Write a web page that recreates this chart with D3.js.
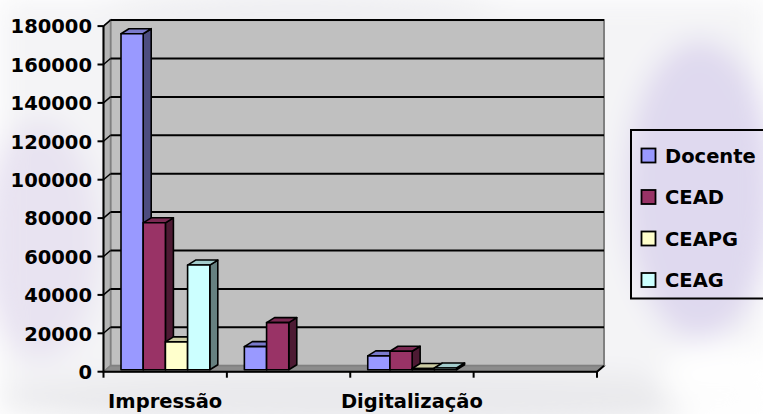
<!DOCTYPE html>
<html><head><meta charset="utf-8">
<script src="https://cdn.jsdelivr.net/npm/d3@7"></script>
<style>html,body{margin:0;padding:0;background:#fff;overflow:hidden}</style>
</head><body>
<svg id="chart" width="763" height="414"></svg>
<script>
// ---- data ----
const categories = ["Impressão", "", "Digitalização", ""];
const seriesNames = ["Docente", "CEAD", "CEAPG", "CEAG"];
const docente = [175000, 12000, 7200, 0];
const cead    = [76500, 24500, 9600, 0];
const ceapg   = [14500, 0, 600, 0];
const ceag    = [54500, 0, 900, 0];
const seriesValues = [docente, cead, ceapg, ceag];
const yTicks = [0, 20000, 40000, 60000, 80000, 100000, 120000, 140000, 160000, 180000];
const colors = ["#9999FF", "#993366", "#FFFFCC", "#CCFFFF"];

// ---- layout ----
const svg = d3.select("#chart");
const W = 763, H = 414;
const DX = 7, DY = -6;          // wall depth
const BDX = 8, BDY = -5;        // bar depth
const x = d3.scaleBand().domain(d3.range(categories.length)).range([103.5, 597]);
const y = d3.scaleLinear().domain([0, 180000]).range([371.7, 26.1]);
const inner = d3.scaleBand().domain(d3.range(seriesNames.length)).range([17.5, 17.5 + 4 * 22.2]);
const barShiftY = -2;
const font = "'DejaVu Sans', sans-serif";

// ---- faint background watermark ----
const defs = svg.append("defs");
defs.append("filter").attr("id", "blur").append("feGaussianBlur").attr("stdDeviation", 14);
const bg = svg.append("g").attr("filter", "url(#blur)");
bg.append("rect").attr("x", 0).attr("y", 0).attr("width", W).attr("height", H).attr("fill", "#f4f4f6");
bg.append("ellipse").attr("cx", 700).attr("cy", 190).attr("rx", 75).attr("ry", 150).attr("fill", "#d9d2ee").attr("opacity", 0.8);
bg.append("ellipse").attr("cx", 40).attr("cy", 240).attr("rx", 60).attr("ry", 120).attr("fill", "#e2dcef").attr("opacity", 0.7);
bg.append("ellipse").attr("cx", 380).attr("cy", 400).attr("rx", 380).attr("ry", 30).attr("fill", "#e6e6ea").attr("opacity", 0.8);
bg.append("ellipse").attr("cx", 300).attr("cy", 8).attr("rx", 200).attr("ry", 20).attr("fill", "#ececf0").attr("opacity", 0.8);
bg.append("ellipse").attr("cx", 720).attr("cy", 380).attr("rx", 60).attr("ry", 40).attr("fill", "#ffffff").attr("opacity", 0.9);

// ---- walls ----
const x0 = x.range()[0], x1 = x.range()[1];
const yTop = y(180000), yBot = y(0);
// back wall
svg.append("rect")
  .attr("x", x0 + DX).attr("y", yTop + DY)
  .attr("width", x1 - x0).attr("height", yBot - yTop)
  .attr("fill", "#c0c0c0").attr("stroke", "#808080").attr("stroke-width", 2);
// side wall
svg.append("polygon")
  .attr("points", [[x0, yTop], [x0 + DX, yTop + DY], [x0 + DX, yBot + DY], [x0, yBot]].join(" "))
  .attr("fill", "#b4b4b4").attr("stroke", "#808080").attr("stroke-width", 1.5);
// floor
svg.append("polygon")
  .attr("points", [[x0, yBot], [x0 + DX, yBot + DY], [x1 + DX, yBot + DY], [x1, yBot]].join(" "))
  .attr("fill", "#8c8c8c").attr("stroke", "#808080").attr("stroke-width", 1.5);

// gridlines
const grid = svg.append("g");
yTicks.filter(t => t > 0).forEach(t => {
  grid.append("line").attr("x1", x0 + DX).attr("x2", x1 + DX)
    .attr("y1", y(t) + DY).attr("y2", y(t) + DY)
    .attr("stroke", "#000").attr("stroke-width", 2);
  grid.append("line").attr("x1", x0).attr("x2", x0 + DX)
    .attr("y1", y(t)).attr("y2", y(t) + DY)
    .attr("stroke", "#000").attr("stroke-width", 1.5);
});

// ---- bars ----
function shade(c, k) {
  const r = d3.rgb(c);
  return d3.rgb(r.r * k, r.g * k, r.b * k).toString();
}
const bars = svg.append("g").attr("stroke", "#000").attr("stroke-width", 1.6).attr("stroke-linejoin", "round");
categories.forEach((cat, ci) => {
  seriesValues.forEach((vals, si) => {
    const v = vals[ci];
    if (!v) return;
    const bx0 = x(ci) + inner(si), bx1 = bx0 + inner.bandwidth();
    const yt = y(v) + barShiftY, yb = y(0) + barShiftY;
    const c = colors[si];
    // side
    bars.append("polygon")
      .attr("points", [[bx1, yt], [bx1 + BDX, yt + BDY], [bx1 + BDX, yb + BDY], [bx1, yb]].join(" "))
      .attr("fill", shade(c, 0.5));
    // top
    bars.append("polygon")
      .attr("points", [[bx0, yt], [bx0 + BDX, yt + BDY], [bx1 + BDX, yt + BDY], [bx1, yt]].join(" "))
      .attr("fill", shade(c, 0.8));
    // front
    bars.append("rect")
      .attr("x", bx0).attr("y", yt).attr("width", bx1 - bx0).attr("height", yb - yt)
      .attr("fill", c);
  });
});

// ---- axes ----
const ax = svg.append("g").attr("stroke", "#000").attr("stroke-width", 2);
ax.append("line").attr("x1", x0).attr("x2", x0).attr("y1", yTop).attr("y2", yBot);
ax.append("line").attr("x1", x0).attr("x2", x1).attr("y1", yBot).attr("y2", yBot);
ax.append("line").attr("x1", x1).attr("x2", x1 + DX).attr("y1", yBot).attr("y2", yBot + DY);
yTicks.forEach(t => {
  ax.append("line").attr("x1", x0 - 6).attr("x2", x0).attr("y1", y(t)).attr("y2", y(t));
});
const bounds = categories.map((c, i) => x(i)).concat([x1]);
bounds.forEach(bx => {
  ax.append("line").attr("x1", bx).attr("x2", bx).attr("y1", yBot).attr("y2", yBot + 6);
});

const tl = svg.append("g").attr("font-family", font).attr("font-weight", "bold").attr("font-size", 19.5).attr("fill", "#000");
yTicks.forEach(t => {
  tl.append("text").attr("x", 92).attr("y", y(t) + 7.3).attr("text-anchor", "end").text(t);
});
categories.forEach((c, i) => {
  if (!c) return;
  tl.append("text").attr("x", x(i) + x.bandwidth() / 2).attr("y", 408).attr("text-anchor", "middle").text(c);
});

// ---- legend ----
const lg = svg.append("g");
lg.append("rect").attr("x", 631).attr("y", 130).attr("width", 160).attr("height", 168.5)
  .attr("fill", "none").attr("stroke", "#000").attr("stroke-width", 2);
const legendY = d3.scaleLinear().domain([0, 3]).range([155.5, 280]);
seriesNames.forEach((s, i) => {
  const cy = legendY(i);
  lg.append("rect").attr("x", 641.5).attr("y", cy - 7).attr("width", 14).attr("height", 14)
    .attr("fill", colors[i]).attr("stroke", "#000").attr("stroke-width", 1.8);
  lg.append("text").attr("x", 665).attr("y", cy + 7.2)
    .attr("font-family", font).attr("font-weight", "bold").attr("font-size", 19.5).text(s);
});
</script>
</body></html>
